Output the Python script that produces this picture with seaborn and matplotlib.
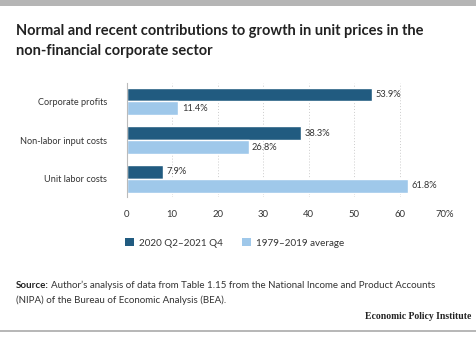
import matplotlib
matplotlib.use("Agg")
import matplotlib.pyplot as plt
from matplotlib.patches import Rectangle, Patch
import seaborn as sns
import pandas as pd

categories = ["Corporate profits", "Non-labor input costs", "Unit labor costs"]
series_names = ["2020 Q2\u20132021 Q4", "1979\u20132019 average"]
recent = [53.9, 38.3, 7.9]
average = [11.4, 26.8, 61.8]
x_ticks = [0, 10, 20, 30, 40, 50, 60, 70]
x_tick_labels = ["0", "10", "20", "30", "40", "50", "60", "70%"]

colors = ["#215b80", "#9fc8ea"]

df = pd.DataFrame({
    "category": categories * 2,
    "period": [series_names[0]] * 3 + [series_names[1]] * 3,
    "value": recent + average,
})

sns.set_theme(style="white")
plt.rcParams["font.family"] = ["Lato", "DejaVu Sans"]

fig = plt.figure(figsize=(4.76, 3.49), dpi=100)
ax = fig.add_axes([0.266, 0.4355, 0.669, 0.327])

sns.barplot(data=df, y="category", x="value", hue="period", order=categories,
            hue_order=series_names, palette=colors, orient="h", width=0.72,
            gap=0, saturation=1, ax=ax, legend=False)

for container in ax.containers:
    ax.bar_label(container, fmt="%.1f%%", padding=2.5, fontsize=6.7, color="#333333")

ax.set_xlim(0, 70)
ax.set_ylim(2.47, -0.48)
ax.set_xticks(x_ticks)
ax.set_xticklabels(x_tick_labels, fontsize=6.8, color="#333333")
ax.tick_params(axis="x", length=0, pad=9)
ax.tick_params(axis="y", length=0, pad=14, labelsize=6.6, labelcolor="#333333")
ax.set_xlabel("")
ax.set_ylabel("")
for xv in x_ticks[1:]:
    ax.axvline(xv, color="#cccccc", linestyle=(0, (1, 2)), linewidth=0.7, zorder=0)
for side in ["top", "right", "bottom"]:
    ax.spines[side].set_visible(False)
ax.spines["left"].set_color("#bbbbbb")
ax.spines["left"].set_linewidth(0.8)

handles = [Patch(facecolor=c, edgecolor="none") for c in colors]
fig.legend(handles, series_names, loc="center", bbox_to_anchor=(0.493, 0.304), ncol=2,
           frameon=False, fontsize=7.1, handlelength=0.9, handleheight=0.9,
           handletextpad=0.5, columnspacing=1.9, labelcolor="#333333")

fig.text(0.034, 0.911, "Normal and recent contributions to growth in unit prices in the",
         fontsize=10.5, fontweight="bold", color="#222222", va="center")
fig.text(0.034, 0.854, "non-financial corporate sector",
         fontsize=10.5, fontweight="bold", color="#222222", va="center")

# Source note: bold lead-in followed by regular text
src = fig.text(0.034, 0.183, "Source:", fontsize=7.05, fontweight="bold",
               color="#222222", va="center")
fig.canvas.draw()
bb = src.get_window_extent()
x_after = (bb.x1 + 2) / fig.bbox.width
fig.text(x_after, 0.183, "Author\u2019s analysis of data from Table 1.15 from the National Income and Product Accounts",
         fontsize=7.05, color="#333333", va="center")
fig.text(0.034, 0.140, "(NIPA) of the Bureau of Economic Analysis (BEA).",
         fontsize=7.05, color="#333333", va="center")

fig.text(0.99, 0.092, "Economic Policy Institute", fontsize=6.9, fontweight="bold",
         family="Liberation Serif", color="#222222", ha="right", va="center")

fig.patches.append(Rectangle((0, 1 - 6 / 349), 1, 6 / 349, transform=fig.transFigure,
                             facecolor="#b5b5b5", edgecolor="none"))
fig.patches.append(Rectangle((0, 1 - 332 / 349), 1, 2.5 / 349, transform=fig.transFigure,
                             facecolor="#b8b8b8", edgecolor="none"))

fig.savefig("out.png", dpi=100)
